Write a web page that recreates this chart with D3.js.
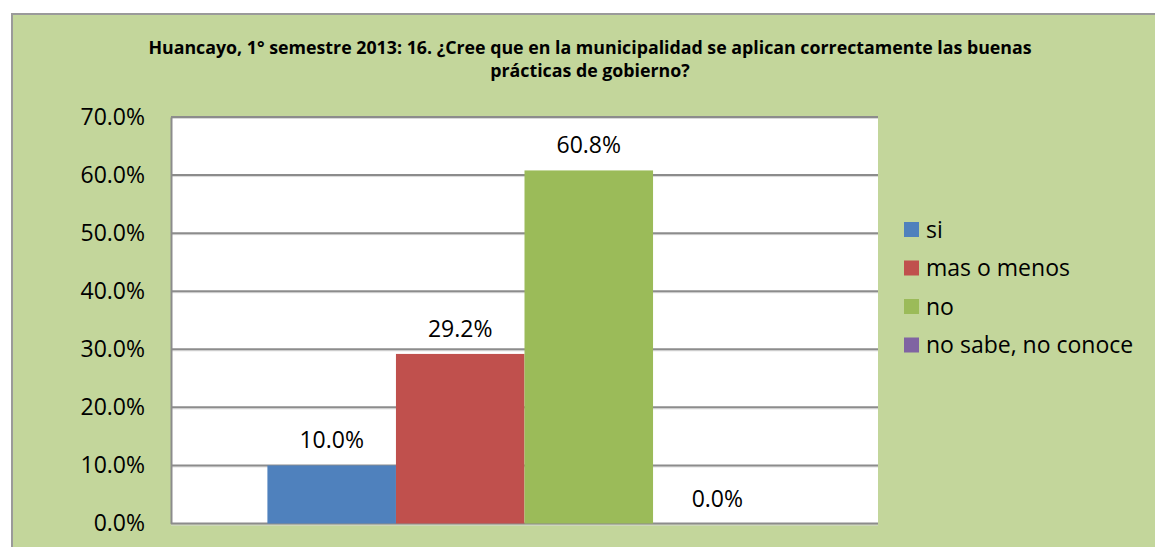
<!DOCTYPE html>
<html>
<head>
<meta charset="utf-8">
<script src="https://cdn.jsdelivr.net/npm/d3@7"></script>
<style>
  body { margin: 0; background: #fff; }
  svg { display: block; font-family: "Open Sans", sans-serif; }
</style>
</head>
<body>
<svg width="1155" height="547"></svg>
<script>
const titleLines = ["Huancayo, 1° semestre 2013: 16. ¿Cree que en la municipalidad se aplican correctamente las buenas",
                    "prácticas de gobierno?"];
const seriesNames = ["si", "mas o menos", "no", "no sabe, no conoce"];
const seriesValues = [0.100, 0.292, 0.608, 0.0];
const seriesColors = ["#4f81bd", "#c0504d", "#9bbb59", "#8064a2"];
const yTicks = [0, 0.1, 0.2, 0.3, 0.4, 0.5, 0.6, 0.7];

const svg = d3.select("svg");
const margin = {top: 117, right: 277, bottom: 23.5, left: 171},
      width = +svg.attr("width") - margin.left - margin.right,
      height = +svg.attr("height") - margin.top - margin.bottom;

// chart area frame
svg.append("rect")
    .attr("x", 12).attr("y", 14)
    .attr("width", 1200).attr("height", 600)
    .attr("fill", "#c3d69b")
    .attr("stroke", "#9a9a9a")
    .attr("stroke-width", 2);

// title
const title = svg.append("text")
    .attr("x", 590).attr("y", 54)
    .attr("text-anchor", "middle")
    .attr("font-weight", "bold")
    .attr("font-size", 17.8);
title.selectAll("tspan")
    .data(titleLines)
    .enter().append("tspan")
    .attr("x", 590)
    .attr("dy", (d, i) => i ? 23 : 0)
    .text(d => d);

const g = svg.append("g").attr("transform", `translate(${margin.left},${margin.top})`);

g.append("rect")
    .attr("width", width).attr("height", height)
    .attr("fill", "#fff");

const x = d3.scaleBand().domain(seriesNames).range([width / 5.5 * 0.75, width - width / 5.5 * 0.75]).padding(0);
const y = d3.scaleLinear().domain([0, 0.7]).range([height, 0]);

// gridlines
g.append("g")
    .selectAll("line")
    .data(yTicks)
    .enter().append("line")
    .attr("x1", 0).attr("x2", width)
    .attr("y1", d => y(d) + 1.5).attr("y2", d => y(d) + 1.5)
    .attr("stroke", "#d9d9d9")
    .attr("stroke-width", 1);
g.append("g")
    .selectAll("line")
    .data(yTicks)
    .enter().append("line")
    .attr("x1", 0).attr("x2", width)
    .attr("y1", d => y(d)).attr("y2", d => y(d))
    .attr("stroke", "#8c8c8c")
    .attr("stroke-width", 2);

// bars
g.selectAll(".bar")
    .data(seriesValues)
    .enter().append("rect")
    .attr("class", "bar")
    .attr("x", (d, i) => x(seriesNames[i]))
    .attr("width", x.bandwidth())
    .attr("y", d => y(d))
    .attr("height", d => y(0) - y(d))
    .attr("fill", (d, i) => seriesColors[i]);

// value labels
g.selectAll(".label")
    .data(seriesValues)
    .enter().append("text")
    .attr("class", "label")
    .attr("x", (d, i) => x(seriesNames[i]) + x.bandwidth() / 2)
    .attr("y", d => y(d) - 17)
    .attr("text-anchor", "middle")
    .attr("font-size", 23)
    .attr("fill", "#000")
    .text(d => d3.format(".1%")(d));

// y axis
const yAxis = g.append("g")
    .call(d3.axisLeft(y).tickValues(yTicks).tickFormat(d3.format(".1%")).tickSize(0).tickPadding(26));
yAxis.select(".domain").attr("stroke", "#8c8c8c").attr("stroke-width", 2);
yAxis.selectAll("text").attr("font-size", 23).attr("fill", "#000").attr("font-family", "'Open Sans', sans-serif");

// legend
const legend = svg.append("g").attr("transform", "translate(904,222)");
const item = legend.selectAll("g")
    .data(seriesNames)
    .enter().append("g")
    .attr("transform", (d, i) => `translate(0,${i * 38.5})`);
item.append("rect")
    .attr("width", 15).attr("height", 15)
    .attr("fill", (d, i) => seriesColors[i]);
item.append("text")
    .attr("x", 22).attr("y", 7.5)
    .attr("dy", "0.35em")
    .attr("font-size", 23)
    .text(d => d);
</script>
</body>
</html>
